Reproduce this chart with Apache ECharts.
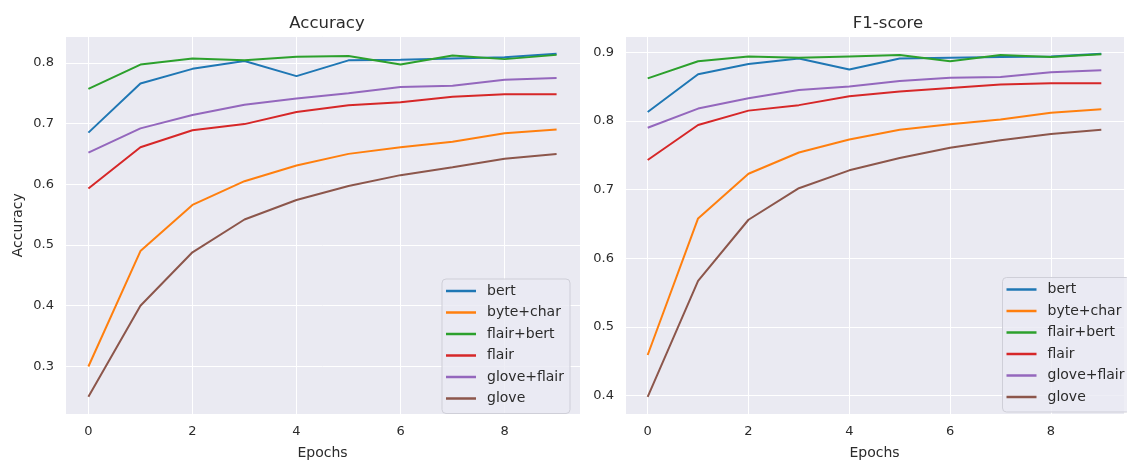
<!DOCTYPE html>
<html>
<head>
<meta charset="utf-8">
<script src="https://cdn.jsdelivr.net/npm/echarts@6/dist/echarts.min.js"></script>
<style>
  html, body { margin: 0; padding: 0; background: #ffffff; }
  #chart { width: 1127px; height: 465px; }
</style>
</head>
<body>
<div id="chart"></div>
<script>
// Training curves per embedding setup, one value per epoch
const epochs = [0, 1, 2, 3, 4, 5, 6, 7, 8, 9];
const modelNames = ['bert', 'byte+char', 'flair+bert', 'flair', 'glove+flair', 'glove'];
const lineColors = ['#1f77b4', '#ff7f0e', '#2ca02c', '#d62728', '#9467bd', '#8c564b'];

// Accuracy
const accBert       = [0.685, 0.766, 0.790, 0.803, 0.778, 0.804, 0.805, 0.807, 0.809, 0.815];
const accByteChar   = [0.300, 0.490, 0.566, 0.605, 0.631, 0.650, 0.661, 0.670, 0.684, 0.690];
const accFlairBert  = [0.757, 0.797, 0.807, 0.804, 0.810, 0.811, 0.797, 0.812, 0.806, 0.813];
const accFlair      = [0.593, 0.661, 0.689, 0.699, 0.719, 0.730, 0.735, 0.744, 0.748, 0.748];
const accGloveFlair = [0.652, 0.692, 0.714, 0.731, 0.741, 0.750, 0.760, 0.762, 0.772, 0.775];
const accGlove      = [0.250, 0.400, 0.488, 0.542, 0.574, 0.597, 0.615, 0.628, 0.642, 0.650];

// F1-score
const f1Bert       = [0.813, 0.868, 0.883, 0.891, 0.875, 0.891, 0.892, 0.893, 0.894, 0.898];
const f1ByteChar   = [0.459, 0.658, 0.723, 0.754, 0.773, 0.787, 0.795, 0.802, 0.812, 0.817];
const f1FlairBert  = [0.862, 0.887, 0.894, 0.892, 0.894, 0.896, 0.887, 0.896, 0.893, 0.897];
const f1Flair      = [0.743, 0.794, 0.815, 0.823, 0.836, 0.843, 0.848, 0.853, 0.855, 0.855];
const f1GloveFlair = [0.790, 0.818, 0.833, 0.845, 0.850, 0.858, 0.863, 0.864, 0.871, 0.874];
const f1Glove      = [0.398, 0.567, 0.656, 0.702, 0.728, 0.746, 0.761, 0.772, 0.781, 0.787];

// Tick labels
const xTickLabels = [0, 2, 4, 6, 8];
const accTickLabels = [0.3, 0.4, 0.5, 0.6, 0.7, 0.8];
const f1TickLabels = [0.4, 0.5, 0.6, 0.7, 0.8, 0.9];

const accSeries = [accBert, accByteChar, accFlairBert, accFlair, accGloveFlair, accGlove];
const f1Series = [f1Bert, f1ByteChar, f1FlairBert, f1Flair, f1GloveFlair, f1Glove];

const FONT = 'DejaVu Sans';
const TEXT = '#2b2b2b';
const PLOT_BG = '#eaeaf2';

// axis limits padded by 5% of the data span on each side
function padded(lists) {
  const all = [].concat(...lists);
  const lo = Math.min(...all), hi = Math.max(...all);
  const m = (hi - lo) * 0.05;
  return [lo - m, hi + m];
}
const xRange = padded([epochs]);
const accRange = padded(accSeries);
const f1Range = padded(f1Series);

function onlyTicks(list, digits) {
  return function (v) {
    return list.some(t => Math.abs(t - v) < 1e-6) ? v.toFixed(digits) : '';
  };
}

function xAxis(gridIndex) {
  return {
    type: 'value', gridIndex, min: xRange[0], max: xRange[1],
    name: 'Epochs', nameLocation: 'middle', nameGap: 32,
    nameTextStyle: { fontFamily: FONT, fontSize: 14, color: TEXT },
    axisLine: { show: false }, axisTick: { show: false },
    axisLabel: { fontFamily: FONT, fontSize: 13, color: TEXT, margin: 11,
                 formatter: onlyTicks(xTickLabels, 0) },
    splitLine: { show: true, lineStyle: { color: '#ffffff', width: 1 } }
  };
}

function yAxis(gridIndex, range, ticks, name) {
  return {
    type: 'value', gridIndex, min: range[0], max: range[1],
    name: name || '', nameLocation: 'middle', nameGap: 40,
    nameTextStyle: { fontFamily: FONT, fontSize: 14, color: TEXT },
    axisLine: { show: false }, axisTick: { show: false },
    axisLabel: { fontFamily: FONT, fontSize: 13, color: TEXT, margin: 11,
                 formatter: onlyTicks(ticks, 1) },
    splitLine: { show: true, lineStyle: { color: '#ffffff', width: 1 } }
  };
}

function legend(left, top) {
  return {
    data: modelNames, orient: 'vertical', left, top,
    icon: 'rect', itemWidth: 30, itemHeight: 2.5, itemGap: 5.5,
    padding: [4, 6, 7, 4],
    backgroundColor: 'rgba(234,234,242,0.8)',
    borderColor: '#cfcfd8', borderWidth: 1, borderRadius: 4,
    textStyle: { fontFamily: FONT, fontSize: 14, color: TEXT, lineHeight: 16,
                 padding: [0, 0, 0, 6] }
  };
}

const series = [];
function addSeries(lists, idx) {
  lists.forEach((vals, i) => {
    series.push({
      type: 'line', name: modelNames[i], xAxisIndex: idx, yAxisIndex: idx,
      data: epochs.map((e, k) => [e, vals[k]]),
      symbol: 'none', smooth: false,
      lineStyle: { width: 2, color: lineColors[i] },
      itemStyle: { color: lineColors[i] }
    });
  });
}
addSeries(accSeries, 0);
addSeries(f1Series, 1);

const chart = echarts.init(document.getElementById('chart'), null, { renderer: 'canvas' });
chart.setOption({
  animation: false,
  color: lineColors,
  title: [
    { text: 'Accuracy', left: 322, top: 10, textAlign: 'center',
      textStyle: { fontFamily: FONT, fontSize: 16.5, fontWeight: 'normal', color: TEXT } },
    { text: 'F1-score', left: 883, top: 10, textAlign: 'center',
      textStyle: { fontFamily: FONT, fontSize: 16.5, fontWeight: 'normal', color: TEXT } }
  ],
  grid: [
    { left: 65, top: 36.5, width: 515, height: 384.2, show: true,
      backgroundColor: PLOT_BG, borderWidth: 0, containLabel: false },
    { left: 625, top: 36.5, width: 515.3, height: 384.2, show: true,
      backgroundColor: PLOT_BG, borderWidth: 0, containLabel: false }
  ],
  xAxis: [xAxis(0), xAxis(1)],
  yAxis: [yAxis(0, accRange, accTickLabels, 'Accuracy'), yAxis(1, f1Range, f1TickLabels)],
  legend: [legend(442, 279), legend(1002.5, 277.5)],
  series
});
</script>
</body>
</html>
